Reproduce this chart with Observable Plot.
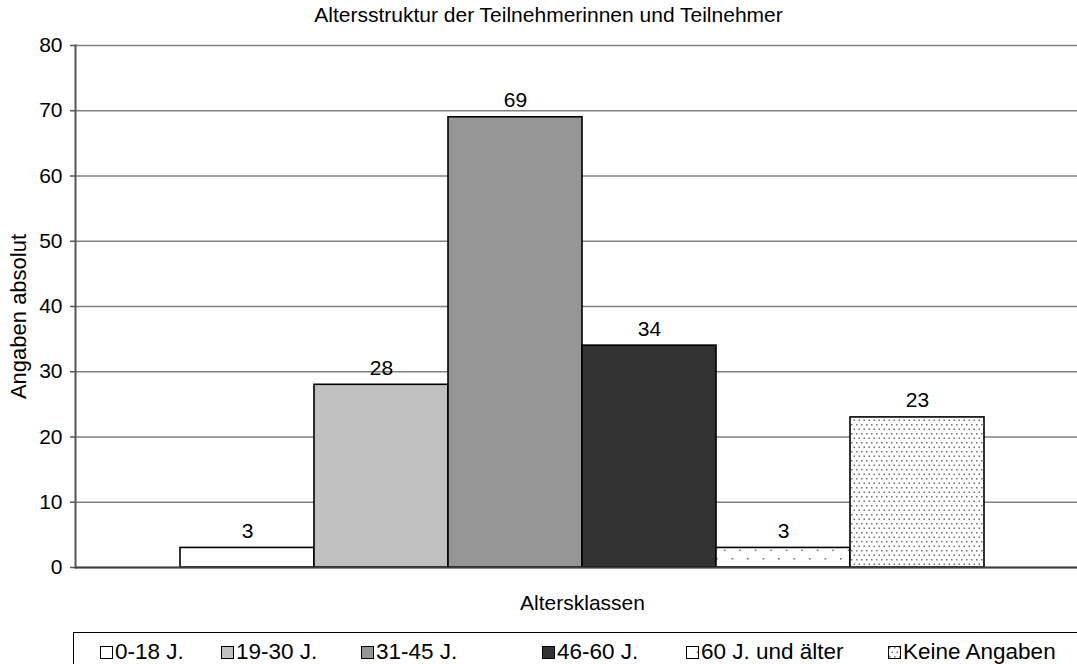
<!DOCTYPE html>
<html>
<head>
<meta charset="utf-8">
<script src="https://cdn.jsdelivr.net/npm/d3@7"></script>
<script src="https://cdn.jsdelivr.net/npm/@observablehq/plot@0.6"></script>
<style>
  html, body { margin: 0; padding: 0; background: #fff; overflow: hidden; }
  body { width: 1077px; height: 664px; position: relative; font-family: "Liberation Sans", Arial, sans-serif; }
  #legend { position: absolute; left: 73px; top: 632px; width: 1100px; height: 60px;
            border-top: 1.5px solid #000; border-left: 1.5px solid #000; box-sizing: border-box; }
  .item { position: absolute; top: 6px; display: flex; align-items: center; font-size: 22.5px; color: #000; white-space: nowrap; }
  .item svg { margin-right: 2px; }
</style>
</head>
<body>
<div id="chart"></div>
<div id="legend"></div>
<script>
const categories = ["0-18 J.", "19-30 J.", "31-45 J.", "46-60 J.", "60 J. und älter", "Keine Angaben"];
const values = [3, 28, 69, 34, 3, 23];
const fills = ["#ffffff", "#c0c0c0", "#969696", "#333333", "url(#dotsSparse)", "url(#dotsDense)"];
const yTicks = [0, 10, 20, 30, 40, 50, 60, 70, 80];
const title = "Altersstruktur der Teilnehmerinnen und Teilnehmer";
const xLabel = "Altersklassen";
const yLabel = "Angaben absolut";
const legendOffsets = [26, 147, 287, 468, 612, 814];

const data = categories.map((c, i) => ({cat: c, value: values[i]}));
const font = "Liberation Sans, Arial, sans-serif";

const chart = Plot.plot({
  width: 1077,
  height: 625,
  marginLeft: 75,
  marginRight: 0,
  marginTop: 45,
  marginBottom: 58,
  style: {fontFamily: font, fontSize: "21px", color: "#000", background: "#fff"},
  x: {domain: categories, range: [178, 985], padding: 0, axis: null},
  y: {domain: [0, 80], ticks: yTicks, label: null},
  color: {type: "ordinal", domain: categories, range: fills},
  marks: [
    Plot.gridY(yTicks, {stroke: "#808080", strokeOpacity: 1, strokeWidth: 1.4}),
    Plot.axisY(yTicks, {tickSize: 5, tickPadding: 8, stroke: "#555", strokeWidth: 1.5, fontSize: 21, label: null}),
    Plot.frame({anchor: "left", stroke: "#555", strokeWidth: 2}),
    Plot.barY(data, {x: "cat", y: "value", fill: "cat", stroke: "#000", strokeWidth: 1.6}),
    Plot.ruleY([0], {stroke: "#404040", strokeWidth: 2}),
    Plot.text(data, {x: "cat", y: "value", text: d => String(d.value), lineAnchor: "bottom", dy: -10, fontSize: 21, fill: "#000"}),
    Plot.text([title], {frameAnchor: "top", lineAnchor: "middle", dy: -30, dx: -28, fontSize: 21, fill: "#000"}),
    Plot.text([xLabel], {frameAnchor: "bottom", lineAnchor: "middle", dy: 36, dx: 6, fontSize: 21, fill: "#000"}),
    Plot.text([yLabel], {frameAnchor: "left", textAnchor: "middle", lineAnchor: "middle", dx: -57, dy: 10, rotate: -90, fontSize: 22, fill: "#000"})
  ]
});

// patterns
const svg = d3.select(chart.tagName.toLowerCase() === "svg" ? chart : chart.querySelector("svg"));
const defs = svg.insert("defs", ":first-child");
const sp = defs.append("pattern").attr("id", "dotsSparse").attr("patternUnits", "userSpaceOnUse")
  .attr("width", 15.5).attr("height", 17).attr("x", 3).attr("y", -3);
sp.append("rect").attr("width", 15.5).attr("height", 17).attr("fill", "#fff");
sp.append("rect").attr("x", 0).attr("y", 0).attr("width", 1.6).attr("height", 1.6).attr("fill", "#707070");
sp.append("rect").attr("x", 7.75).attr("y", 8.5).attr("width", 1.6).attr("height", 1.6).attr("fill", "#707070");
const dp = defs.append("pattern").attr("id", "dotsDense").attr("patternUnits", "userSpaceOnUse")
  .attr("width", 5).attr("height", 9);
dp.append("rect").attr("width", 5).attr("height", 9).attr("fill", "#fff");
dp.append("rect").attr("x", 1).attr("y", 1).attr("width", 1.5).attr("height", 1.5).attr("fill", "#707070");
dp.append("rect").attr("x", 3.5).attr("y", 5.5).attr("width", 1.5).attr("height", 1.5).attr("fill", "#707070");

document.getElementById("chart").appendChild(chart);

// legend
const legend = document.getElementById("legend");
categories.forEach((c, i) => {
  const item = document.createElement("div");
  item.className = "item";
  item.style.left = legendOffsets[i] + "px";
  item.innerHTML = `<svg width="13" height="13"><rect x="0.5" y="0.5" width="12" height="12" fill="${fills[i]}" stroke="#000" stroke-width="1"/></svg><span>${c}</span>`;
  legend.appendChild(item);
});
</script>
</body>
</html>
